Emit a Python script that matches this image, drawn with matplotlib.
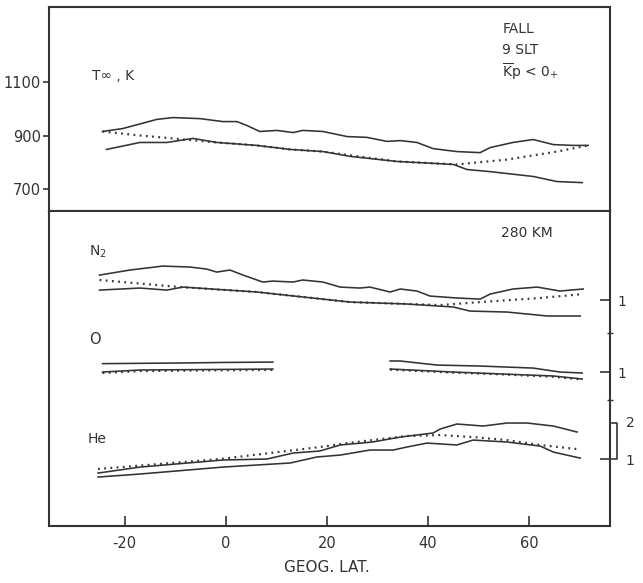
import matplotlib
matplotlib.use("Agg")
import matplotlib.pyplot as plt
import matplotlib.transforms as mtransforms

plt.rcParams['font.family'] = ['DejaVu Sans']
plt.rcParams['axes.unicode_minus'] = False
plt.rcParams['mathtext.fontset'] = 'dejavusans'

# ---------------- data ----------------
# Exospheric temperature (K) vs geographic latitude (deg)
t_up_lat = [-24.4, -20.4, -13.7, -10.5, -5.1, -0.6, 2.2, 4.2, 6.7, 10.1, 13.3, 15.2, 19.2, 24.0,
            27.9, 31.9, 34.5, 37.8, 41.0, 45.7, 50.3, 52.3, 56.8, 60.8, 64.8, 68.7, 71.7]
t_up_val = [915, 926, 960, 967, 963, 952, 952, 937, 915, 919, 911, 919, 915, 896,
            893, 878, 881, 874, 851, 840, 836, 855, 874, 885, 866, 863, 863]
t_lo_lat = [-23.6, -17.0, -11.7, -6.5, -1.8, 6.1, 12.7, 19.2, 24.6, 33.9, 45.0, 47.7, 52.3, 60.8, 65.5, 70.5]
t_lo_val = [848, 874, 874, 889, 874, 863, 848, 840, 822, 803, 792, 773, 765, 747, 728, 724]
t_mod_lat = [-24.4, -17.0, -10.5, -6.5, -1.8, 6.1, 12.7, 19.2, 24.6, 33.9, 45.7, 55.6, 65.5, 71.7]
t_mod_val = [915, 900, 889, 882, 874, 863, 848, 840, 826, 803, 792, 810, 840, 863]

# Densities at 280 km: log10(n / reference), reference marked "1" on right axis
n2_up_lat = [-25.0, -19.0, -12.5, -7.1, -3.8, -1.8, 0.8, 3.4, 7.3, 9.3, 13.3, 15.2, 19.2, 22.6, 26.5,
             28.5, 32.5, 34.5, 37.8, 40.4, 45.7, 50.3, 52.3, 56.8, 61.6, 66.1, 70.7]
n2_up_val = [0.208, 0.250, 0.283, 0.275, 0.258, 0.233, 0.250, 0.208, 0.150, 0.158, 0.150, 0.167, 0.150,
             0.108, 0.100, 0.108, 0.067, 0.092, 0.075, 0.033, 0.017, 0.008, 0.050, 0.092, 0.108, 0.075, 0.092]
n2_lo_lat = [-25.0, -17.0, -11.7, -8.5, 6.1, 24.6, 35.8, 45.0, 48.3, 55.6, 63.6, 70.1]
n2_lo_val = [0.083, 0.100, 0.083, 0.108, 0.067, -0.017, -0.033, -0.058, -0.092, -0.100, -0.133, -0.133]
n2_mod_lat = [-25.0, -9.1, 6.1, 24.6, 42.4, 50.3, 62.2, 70.7]
n2_mod_val = [0.167, 0.108, 0.067, -0.017, -0.042, -0.017, 0.017, 0.050]

o_up_lat = [-24.4, -10.0, 0.0, 9.3, None, 32.5, 34.5, 41.8, 50.3, 60.8, 66.1, 70.5]
o_up_val = [0.070, 0.075, 0.080, 0.083, None, 0.092, 0.092, 0.058, 0.050, 0.033, 0.000, -0.008]
o_lo_lat = [-24.4, -17.0, 0.0, 9.3, None, 32.5, 45.0, 55.0, 64.8, 70.5]
o_lo_val = [0.000, 0.017, 0.022, 0.025, None, 0.025, 0.000, -0.017, -0.033, -0.058]
o_mod_lat = [-24.4, -17.0, 0.0, 9.3, None, 32.5, 45.0, 55.0, 64.8, 70.5]
o_mod_val = [-0.008, 0.008, 0.015, 0.017, None, 0.020, -0.005, -0.020, -0.040, -0.062]

he_up_lat = [-25.3, -17.0, -0.6, 8.1, 13.3, 18.6, 22.6, 29.0, 34.5, 41.0, 42.4, 45.7, 50.9, 55.6,
             59.6, 64.8, 69.5]
he_up_val = [-0.117, -0.067, -0.008, 0.000, 0.050, 0.067, 0.117, 0.142, 0.183, 0.217, 0.250, 0.292,
             0.275, 0.300, 0.300, 0.275, 0.225]
he_lo_lat = [-25.3, -17.0, -0.6, 12.7, 18.0, 22.6, 28.5, 33.1, 35.8, 39.8, 45.7, 48.9, 55.6, 62.2,
             64.8, 70.1]
he_lo_val = [-0.150, -0.125, -0.067, -0.033, 0.017, 0.033, 0.075, 0.075, 0.100, 0.133, 0.117, 0.158,
             0.142, 0.108, 0.058, 0.008]
he_mod_lat = [-25.3, -1.2, 18.6, 24.0, 35.8, 42.4, 48.9, 55.6, 62.2, 69.5]
he_mod_val = [-0.083, 0.000, 0.100, 0.133, 0.192, 0.200, 0.183, 0.158, 0.117, 0.083]

# reference levels (decades above panel bottom) for each species
n2_ref = 1.883
o_ref = 1.283
he_ref = 0.558

x_ticks = [-20, 0, 20, 40, 60]
t_ticks = [700, 900, 1100]

# ---------------- figure ----------------
fig = plt.figure(figsize=(6.43, 5.83), dpi=100)
L, R = 49 / 643, 610 / 643
ax1 = fig.add_axes([L, 1 - 211 / 583, R - L, 204 / 583])
ax2 = fig.add_axes([L, 1 - 526 / 583, R - L, 315 / 583], sharex=ax1)

ink = '#333333'
lw_line = 1.15
dot_style = dict(color=ink, lw=1.6, linestyle=(0, (0.8, 2.0)), dash_capstyle='butt')

for ax in (ax1, ax2):
    for s in ax.spines.values():
        s.set_linewidth(1.5)
        s.set_color(ink)

ax1.set_xlim(-35, 76)
ax1.set_ylim(618, 1380)


def segs(xs, ys):
    out, cx, cy = [], [], []
    for a, b in zip(xs, ys):
        if a is None:
            out.append((cx, cy)); cx, cy = [], []
        else:
            cx.append(a); cy.append(b)
    out.append((cx, cy))
    return out


ax1.plot(t_up_lat, t_up_val, color=ink, lw=lw_line)
ax1.plot(t_lo_lat, t_lo_val, color=ink, lw=lw_line)
ax1.plot(t_mod_lat, t_mod_val, **dot_style)

ax1.set_yticks(t_ticks)
ax1.set_yticklabels([str(t) for t in t_ticks])
ax1.tick_params(axis='y', direction='out', length=4, width=1.2, pad=2, labelsize=10.5, colors=ink)
ax1.tick_params(axis='x', bottom=False, labelbottom=False)

ax1.text(-26.5, 1124, 'T\u221e , K', fontsize=10, color=ink, va='center', ha='left')
ax1.text(54.7, 1296, 'FALL', fontsize=10, color=ink, va='center', ha='left')
ax1.text(54.7, 1221, '9 SLT', fontsize=10, color=ink, va='center', ha='left')
ax1.text(54.7, 1139, r'$\overline{\mathrm{K}}\mathrm{p}$ < 0$_{+}$', fontsize=10, color=ink,
         va='center', ha='left')

# lower panel
ax2.set_ylim(0, 315 / 120)
for (xs, ys), ref in (((n2_up_lat, n2_up_val), n2_ref), ((n2_lo_lat, n2_lo_val), n2_ref),
                      ((he_up_lat, he_up_val), he_ref), ((he_lo_lat, he_lo_val), he_ref)):
    ax2.plot(xs, [v + ref for v in ys], color=ink, lw=lw_line)
for xs, ys in ((o_up_lat, o_up_val), (o_lo_lat, o_lo_val)):
    for sx, sy in segs(xs, ys):
        ax2.plot(sx, [v + o_ref for v in sy], color=ink, lw=lw_line)
for sx, sy in segs(o_mod_lat, o_mod_val):
    ax2.plot(sx, [v + o_ref for v in sy], **dot_style)
ax2.plot(n2_mod_lat, [v + n2_ref for v in n2_mod_val], **dot_style)
ax2.plot(he_mod_lat, [v + he_ref for v in he_mod_val], **dot_style)

ax2.set_xticks(x_ticks)
ax2.set_xticklabels([str(t) for t in x_ticks])
ax2.tick_params(axis='x', direction='in', length=7, width=1.2, pad=7, labelsize=10.5, colors=ink)

# right-hand reference ticks
ax2r = ax2.twinx()
ax2r.set_ylim(ax2.get_ylim())
for s in ax2r.spines.values():
    s.set_visible(False)
ax2r.set_yticks([n2_ref, o_ref, he_ref])
ax2r.set_yticklabels(['1', '1', ''])
ax2r.tick_params(axis='y', direction='in', length=7, width=1.2, pad=5, labelsize=10, colors=ink)
ax2r.set_yticks([n2_ref - 33 / 120, o_ref - 28 / 120], minor=True)
ax2r.tick_params(axis='y', which='minor', direction='inout', length=4, width=1.0, colors=ink)
# twinx re-enables left ticks on ax2: hide them now
ax2.tick_params(axis='y', which='both', left=False, labelleft=False, right=False, labelright=False)

# bracket for factor 2 scale on He
trans = mtransforms.blended_transform_factory(ax2.transAxes, ax2.transData)
he_two = he_ref + 0.301
bx0, bx1 = 1.004, 1.0125
ax2.plot([bx0, bx1, bx1, bx0], [he_two, he_two, he_ref, he_ref], color=ink, lw=1.2,
         transform=trans, clip_on=False)
ax2.text(1.028, he_two, '2', transform=trans, fontsize=10, color=ink, va='center', ha='left')
ax2.text(1.028, he_ref - 0.02, '1', transform=trans, fontsize=10, color=ink, va='center', ha='left')

ax2.text(54.5, 2.442, '280 KM', fontsize=10, color=ink, va='center', ha='left')
ax2.text(-27.1, 2.283, r'N$_2$', fontsize=10, color=ink, va='center', ha='left')
ax2.text(-27.1, 1.558, 'O', fontsize=10.5, color=ink, va='center', ha='left')
ax2.text(-27.3, 0.725, 'He', fontsize=10, color=ink, va='center', ha='left')

fig.text(327 / 643, 1 - 568 / 583, 'GEOG. LAT.', fontsize=11, color=ink, ha='center', va='center')

fig.savefig('out.png', dpi=100)
